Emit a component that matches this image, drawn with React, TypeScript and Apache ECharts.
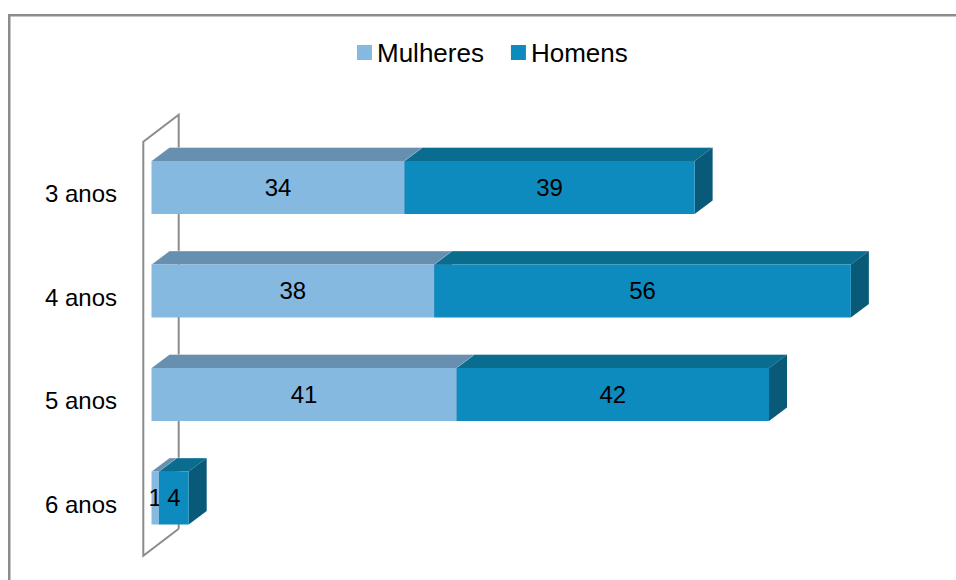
import React, { useEffect, useRef } from "react";
import * as echarts from "echarts";

const categories = ["3 anos", "4 anos", "5 anos", "6 anos"];
const mulheres = [34, 38, 41, 1];
const homens = [39, 56, 42, 4];
const seriesNames = ["Mulheres", "Homens"];

const FONT = "'Liberation Sans', Arial, sans-serif";

const COLORS = {
  mulheres: { front: "#85B9E0", top: "#678FB0", side: "#5A7E9C" },
  homens: { front: "#0E8BBE", top: "#0A6C8F", side: "#085A78" },
};

const DX = 18;
const DY = -13.5;

function bar3D(c: { front: string; top: string; side: string }) {
  return (params: any, api: any) => {
    const cat = api.value(0);
    const s = api.value(1);
    const e = api.value(2);
    const v = api.value(3);
    const band = api.size([0, 1])[1];
    const p0 = api.coord([s, cat]);
    const p1 = api.coord([e, cat]);
    const x0 = p0[0];
    const x1 = p1[0];
    const h = band * 0.512;
    const cy = p0[1] - band * 0.058;
    const y0 = cy - h / 2;
    const y1 = cy + h / 2;
    return {
      type: "group",
      children: [
        {
          type: "polygon",
          shape: { points: [[x0, y0], [x1, y0], [x1 + DX, y0 + DY], [x0 + DX, y0 + DY]] },
          style: { fill: c.top },
        },
        {
          type: "polyline",
          shape: { points: [[x0, y0], [x0 + DX, y0 + DY], [x1 + DX, y0 + DY]] },
          style: { fill: "none", stroke: "rgba(255,255,255,0.35)", lineWidth: 1 },
        },
        {
          type: "polygon",
          shape: { points: [[x1, y0], [x1 + DX, y0 + DY], [x1 + DX, y1 + DY], [x1, y1]] },
          style: { fill: c.side },
        },
        {
          type: "rect",
          shape: { x: x0, y: y0, width: x1 - x0, height: h },
          style: { fill: c.front },
        },
        {
          type: "text",
          x: (x0 + x1) / 2,
          y: cy,
          style: {
            text: String(v),
            fontSize: 24,
            fontFamily: FONT,
            fill: "#000",
            align: "center",
            verticalAlign: "middle",
          },
        },
      ],
    };
  };
}

export default function App() {
  const ref = useRef<HTMLDivElement>(null);
  useEffect(() => {
    const chart = echarts.init(ref.current!, null, { renderer: "svg" });
    const mData = categories.map((_, i) => [i, 0, mulheres[i], mulheres[i]]);
    const hData = categories.map((_, i) => [i, mulheres[i], mulheres[i] + homens[i], homens[i]]);
    chart.setOption({
      animation: false,
      backgroundColor: "#fff",
      textStyle: { fontFamily: FONT },
      graphic: [
        {
          type: "polyline",
          shape: { points: [[9.25, 1000], [9.25, 15.25], [1000, 15.25]] },
          style: { fill: "none", stroke: "#8C8C8C", lineWidth: 2.5 },
          silent: true,
        },
      ],
      legend: {
        data: seriesNames,
        top: 34.5,
        left: 352,
        itemWidth: 15,
        itemHeight: 15,
        itemGap: 27,
        icon: "rect",
        textStyle: { fontSize: 26, color: "#000", fontFamily: FONT },
      },
      grid: { left: 151.5, top: 141.75, width: 744, height: 414 },
      xAxis: { type: "value", min: 0, max: 100, show: false },
      yAxis: {
        type: "category",
        inverse: true,
        data: categories,
        axisLine: { show: false },
        axisTick: { show: false },
        axisLabel: { fontSize: 24, color: "#000", margin: 34.5, fontFamily: FONT },
      },
      series: [
        {
          type: "custom",
          name: "wall",
          silent: true,
          z: 1,
          data: [[0, 0]],
          encode: { x: 1, y: 0 },
          renderItem: (params: any) => {
            const cs = params.coordSys;
            const fx = cs.x - 8.2;
            const bx = fx + 35.4;
            const t = cs.y;
            const b = cs.y + cs.height;
            const d = -27;
            return {
              type: "polyline",
              shape: { points: [[bx, b + d], [bx, t + d], [fx, t], [fx, b], [bx, b + d]] },
              style: { fill: "none", stroke: "#8C8C8C", lineWidth: 2 },
            };
          },
        },
        {
          type: "custom",
          name: seriesNames[0],
          z: 2,
          itemStyle: { color: COLORS.mulheres.front },
          data: mData,
          encode: { x: [1, 2], y: 0 },
          renderItem: bar3D(COLORS.mulheres),
        },
        {
          type: "custom",
          name: seriesNames[1],
          z: 3,
          itemStyle: { color: COLORS.homens.front },
          data: hData,
          encode: { x: [1, 2], y: 0 },
          renderItem: bar3D(COLORS.homens),
        },
      ],
    });
    return () => chart.dispose();
  }, []);
  return (
    <div
      ref={ref}
      style={{ position: "fixed", left: 0, top: 0, width: 956, height: 580 }}
    />
  );
}
